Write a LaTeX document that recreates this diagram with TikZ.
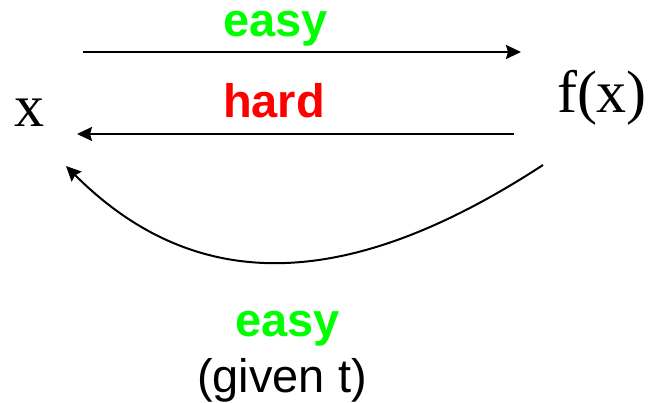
\documentclass[tikz,border=0pt]{standalone}
\usepackage{fontspec}
\setmainfont{Liberation Serif}
\setsansfont{Liberation Sans}
\usetikzlibrary{arrows.meta}
\definecolor{brightgreen}{RGB}{0,255,0}
\definecolor{brightred}{RGB}{255,0,0}
\tikzset{
  lbl/.style={inner sep=0pt, anchor=base, font=\sffamily\bfseries\fontsize{47}{50}\selectfont},
  plain/.style={inner sep=0pt, anchor=base, font=\sffamily\fontsize{47}{50}\selectfont},
  mathlbl/.style={inner sep=0pt, anchor=base, font=\rmfamily\fontsize{60}{64}\selectfont},
  conn/.style={line width=2pt, -{Stealth[length=15pt,width=14pt,inset=2pt]}}
}
\begin{document}
\begin{tikzpicture}[x=1pt,y=-1pt]
\useasboundingbox (0,0) rectangle (654,403);
\node[lbl, text=brightgreen] (easytop) at (275.5,37) {easy};
\node[lbl, text=brightred] (hard) at (274,118) {hard};
\node[lbl, text=brightgreen] (easybot) at (287.5,337) {easy};
\node[plain] (given) at (282,393) {(given t)};
\node[mathlbl] (x) at (29,127) {x};
\node[mathlbl] (fx) at (602,113) {f(x)};
\coordinate (t1) at (83,52);
\coordinate (t2) at (521,52);
\coordinate (b1) at (514,134);
\coordinate (b2) at (77,134);
\coordinate (c1) at (543,165);
\coordinate (c2) at (66,166);
\draw[conn] (t1) -- (t2);
\draw[conn] (b1) -- (b2);
\draw[conn] (c1) .. controls (356,287) and (201,301) .. (c2);
\end{tikzpicture}
\end{document}
